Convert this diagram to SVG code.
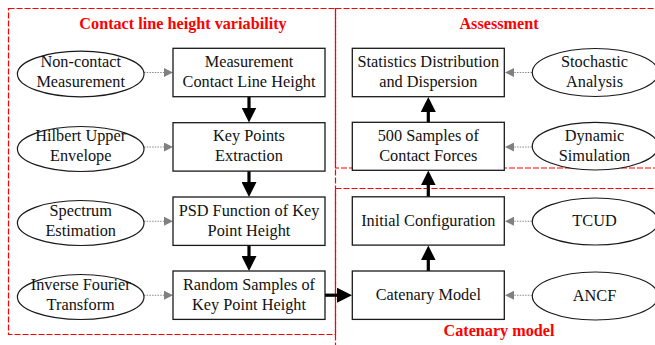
<svg xmlns="http://www.w3.org/2000/svg" width="655" height="345" viewBox="0 0 655 345">
  <style>
    .grp { fill: none; stroke: #ff0000; stroke-width: 1.2; stroke-dasharray: 6 2; }
    .title { font-family: "Liberation Serif", "Times New Roman", serif; font-size: 16.2px; font-weight: bold; fill: #ff0000; text-anchor: middle; }
    .box { fill: #ffffff; stroke: #1a1a1a; stroke-width: 1.3; }
    .ell { fill: #ffffff; stroke: #1a1a1a; stroke-width: 1.2; }
    .lbl { font-family: "Liberation Serif", "Times New Roman", serif; font-size: 16.3px; fill: #111111; text-anchor: middle; }
    .main { stroke: #000000; stroke-width: 3.2; fill: none; }
    .aux { stroke: #8a8a8a; stroke-width: 1.1; stroke-dasharray: 1.5 1.2; fill: none; }
  </style>
  <defs>
    <marker id="headMain" viewBox="0 0 10 10" refX="3.33" refY="5" markerUnits="userSpaceOnUse" markerWidth="15" markerHeight="15" orient="auto">
      <path d="M0,0 L10,5 L0,10 z" fill="#000000"/>
    </marker>
    <marker id="headAux" viewBox="0 0 10 10" refX="5" refY="5" markerUnits="userSpaceOnUse" markerWidth="9" markerHeight="9" orient="auto">
      <path d="M0,0 L10,5 L0,10 z" fill="#808080"/>
    </marker>
  </defs>

  <!-- group frames -->
  <g id="frames">
    <rect class="grp" x="8.5" y="8.5" width="327" height="326"/>
    <rect class="grp" x="335.5" y="8.5" width="330" height="159.5"/>
    <rect class="grp" x="335.5" y="188.5" width="330" height="170"/>
    <text class="title" x="183" y="29">Contact line height variability</text>
    <text class="title" x="499" y="29">Assessment</text>
    <text class="title" x="499" y="336">Catenary model</text>
  </g>

  <!-- connectors -->
  <g id="connectors">
    <!-- main flow -->
    <line class="main" x1="249" y1="97" x2="249" y2="112.5" marker-end="url(#headMain)"/>
    <line class="main" x1="249" y1="171" x2="249" y2="187" marker-end="url(#headMain)"/>
    <line class="main" x1="249" y1="245.5" x2="249" y2="261" marker-end="url(#headMain)"/>
    <line class="main" x1="325" y1="295.2" x2="342" y2="295.2" marker-end="url(#headMain)"/>
    <line class="main" x1="428.3" y1="271" x2="428.3" y2="255.5" marker-end="url(#headMain)"/>
    <line class="main" x1="428.3" y1="197" x2="428.3" y2="180.5" marker-end="url(#headMain)"/>
    <line class="main" x1="428.3" y1="122.5" x2="428.3" y2="107" marker-end="url(#headMain)"/>
    <!-- method inputs -->
    <line class="aux" x1="144" y1="72.5" x2="168.5" y2="72.5" marker-end="url(#headAux)"/>
    <line class="aux" x1="144" y1="147" x2="168.5" y2="147" marker-end="url(#headAux)"/>
    <line class="aux" x1="144" y1="221.2" x2="168.5" y2="221.2" marker-end="url(#headAux)"/>
    <line class="aux" x1="144" y1="295.2" x2="168.5" y2="295.2" marker-end="url(#headAux)"/>
    <line class="aux" x1="532" y1="72.5" x2="509.5" y2="72.5" marker-end="url(#headAux)"/>
    <line class="aux" x1="532" y1="147" x2="509.5" y2="147" marker-end="url(#headAux)"/>
    <line class="aux" x1="532" y1="221.2" x2="509.5" y2="221.2" marker-end="url(#headAux)"/>
    <line class="aux" x1="532" y1="295.2" x2="509.5" y2="295.2" marker-end="url(#headAux)"/>
  </g>

  <!-- left column: process steps -->
  <g id="measurement">
    <rect class="box" x="173" y="48.3" width="152" height="48.4"/>
    <text class="lbl" x="249" y="66.8">Measurement</text>
    <text class="lbl" x="249" y="86.8">Contact Line Height</text>
  </g>
  <g id="keypoints">
    <rect class="box" x="173" y="122.7" width="152" height="48.4"/>
    <text class="lbl" x="249" y="141.4">Key Points</text>
    <text class="lbl" x="249" y="161.4">Extraction</text>
  </g>
  <g id="psd">
    <rect class="box" x="173" y="197" width="152" height="48.4"/>
    <text class="lbl" x="249" y="215.6">PSD Function of Key</text>
    <text class="lbl" x="249" y="235.6">Point Height</text>
  </g>
  <g id="random-samples">
    <rect class="box" x="173" y="271" width="152" height="48.4"/>
    <text class="lbl" x="249" y="289.6">Random Samples of</text>
    <text class="lbl" x="249" y="309.6">Key Point Height</text>
  </g>

  <!-- left column: methods -->
  <g id="non-contact">
    <ellipse class="ell" cx="80.7" cy="74" rx="63.3" ry="22.8"/>
    <text class="lbl" x="80.7" y="66.5">Non-contact</text>
    <text class="lbl" x="80.7" y="86.5">Measurement</text>
  </g>
  <g id="hilbert">
    <ellipse class="ell" cx="80.7" cy="149" rx="63.3" ry="22.5"/>
    <text class="lbl" x="80.7" y="141.4">Hilbert Upper</text>
    <text class="lbl" x="80.7" y="161.4">Envelope</text>
  </g>
  <g id="spectrum">
    <ellipse class="ell" cx="80.7" cy="223" rx="63.3" ry="22.5"/>
    <text class="lbl" x="80.7" y="215.6">Spectrum</text>
    <text class="lbl" x="80.7" y="235.6">Estimation</text>
  </g>
  <g id="inverse-fourier">
    <ellipse class="ell" cx="80.7" cy="297" rx="63.3" ry="22.5"/>
    <text class="lbl" x="80.7" y="289.6">Inverse Fourier</text>
    <text class="lbl" x="80.7" y="309.6">Transform</text>
  </g>

  <!-- right column: process steps -->
  <g id="statistics">
    <rect class="box" x="352.3" y="48.3" width="152" height="48.4"/>
    <text class="lbl" x="428.3" y="66.8">Statistics Distribution</text>
    <text class="lbl" x="428.3" y="86.8">and Dispersion</text>
  </g>
  <g id="contact-forces">
    <rect class="box" x="352.3" y="122.3" width="152" height="48"/>
    <text class="lbl" x="428.3" y="141.2">500 Samples of</text>
    <text class="lbl" x="428.3" y="161.2">Contact Forces</text>
  </g>
  <g id="initial-config">
    <rect class="box" x="352.3" y="196.8" width="152" height="48.3"/>
    <text class="lbl" x="428.3" y="226.2">Initial Configuration</text>
  </g>
  <g id="catenary">
    <rect class="box" x="352.3" y="271" width="152" height="48.4"/>
    <text class="lbl" x="428.3" y="300.4">Catenary Model</text>
  </g>

  <!-- right column: methods -->
  <g id="stochastic">
    <ellipse class="ell" cx="595.3" cy="72.5" rx="63" ry="24"/>
    <text class="lbl" x="594.5" y="66.8">Stochastic</text>
    <text class="lbl" x="594.5" y="86.8">Analysis</text>
  </g>
  <g id="dynamic">
    <ellipse class="ell" cx="595.3" cy="146.2" rx="63" ry="23.8"/>
    <text class="lbl" x="594.5" y="141.2">Dynamic</text>
    <text class="lbl" x="594.5" y="161.2">Simulation</text>
  </g>
  <g id="tcud">
    <ellipse class="ell" cx="595.3" cy="221.5" rx="63" ry="23.5"/>
    <text class="lbl" x="594.5" y="226.2">TCUD</text>
  </g>
  <g id="ancf">
    <ellipse class="ell" cx="595.3" cy="296" rx="63" ry="24"/>
    <text class="lbl" x="594.5" y="300.6">ANCF</text>
  </g>
</svg>
